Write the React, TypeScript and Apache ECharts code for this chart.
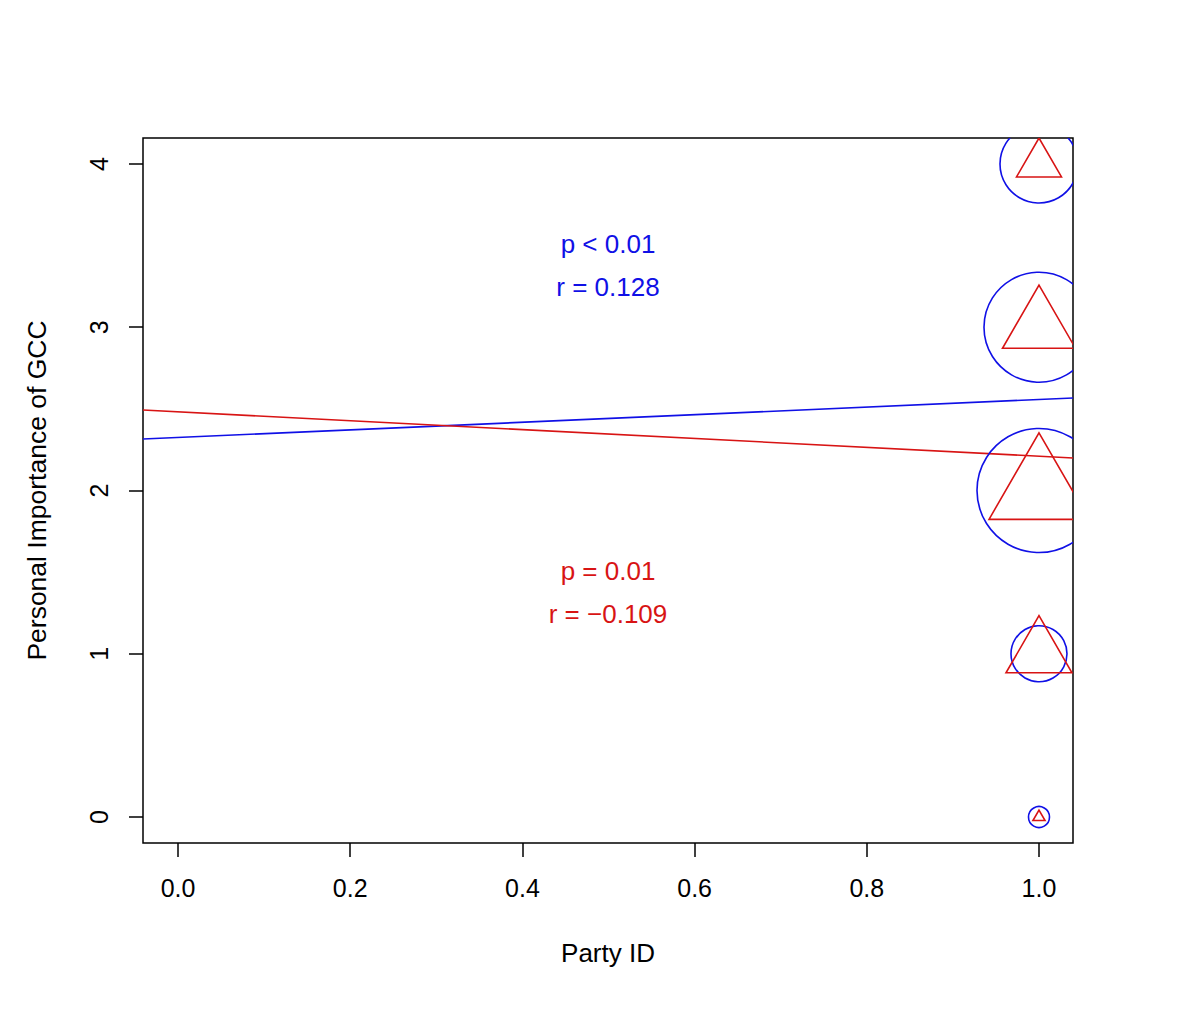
import React, { useEffect, useRef } from "react";
import * as echarts from "echarts";

// Data
const xTicks = [0, 0.2, 0.4, 0.6, 0.8, 1.0];
const yTicks = [0, 1, 2, 3, 4];
const xRange = [-0.0407, 1.0395];
const yRange = [-0.159, 4.159];

// Points: Party ID, importance, marker size (R cex)
const pointX = [1, 1, 1, 1, 1];
const pointY = [4, 3, 2, 1, 0];
const blueCex = [3.9, 5.5, 6.2, 2.8, 1.05];
const redCex = [1.67, 2.71, 3.71, 2.45, 0.45];

// Regression lines (values at the axis limits)
const blueLine = [2.315, 2.567];
const redLine = [2.493, 2.199];

const blueText = ["p < 0.01", "r = 0.128"];
const redText = ["p = 0.01", "r = \u22120.109"];

const BLUE = "#1010E6";
const RED = "#D81414";
const FONT = "'Liberation Sans', Arial, Helvetica, sans-serif";

export default function App() {
  const ref = useRef<HTMLDivElement>(null);
  useEffect(() => {
    document.body.style.margin = "0";
    const chart = echarts.init(ref.current!, null, { renderer: "svg" });
    const unit = 10;
    const circleData = pointX.map((x, i) => [x, pointY[i], blueCex[i]]);
    const triData = pointX.map((x, i) => [x, pointY[i], redCex[i]]);
    const option: any = {
      animation: false,
      backgroundColor: "#fff",
      textStyle: { fontFamily: FONT },
      grid: {
        left: 143,
        top: 138,
        width: 930,
        height: 705,
        show: true,
        borderColor: "#000",
        borderWidth: 1.5,
        backgroundColor: "transparent",
      },
      xAxis: {
        type: "value",
        min: xRange[0],
        max: xRange[1],
        name: "Party ID",
        nameLocation: "middle",
        nameGap: 97,
        nameTextStyle: { fontSize: 26, color: "#000", fontFamily: FONT },
        axisLine: { show: false, onZero: false },
        splitLine: { show: false },
        axisTick: {
          show: true,
          inside: false,
          length: 14,
          customValues: xTicks,
          lineStyle: { color: "#000", width: 1.5 },
        },
        axisLabel: {
          customValues: xTicks,
          formatter: (v: number) => v.toFixed(1),
          fontSize: 25,
          color: "#000",
          margin: 32,
          fontFamily: FONT,
        },
      },
      yAxis: {
        type: "value",
        min: yRange[0],
        max: yRange[1],
        name: "Personal Importance of GCC",
        nameLocation: "middle",
        nameGap: 93,
        nameRotate: 90,
        nameTextStyle: { fontSize: 26.5, color: "#000", fontFamily: FONT },
        axisLine: { show: false, onZero: false },
        splitLine: { show: false },
        axisTick: {
          show: true,
          inside: false,
          length: 14,
          customValues: yTicks,
          lineStyle: { color: "#000", width: 1.5 },
        },
        axisLabel: {
          customValues: yTicks,
          formatter: (v: number) => String(v),
          rotate: 90,
          fontSize: 25,
          color: "#000",
          margin: 32,
          fontFamily: FONT,
        },
      },
      series: [
        {
          type: "line",
          data: [
            [xRange[0], blueLine[0]],
            [xRange[1], blueLine[1]],
          ],
          showSymbol: false,
          clip: true,
          lineStyle: { color: BLUE, width: 1.6 },
          z: 3,
        },
        {
          type: "line",
          data: [
            [xRange[0], redLine[0]],
            [xRange[1], redLine[1]],
          ],
          showSymbol: false,
          clip: true,
          lineStyle: { color: RED, width: 1.6 },
          z: 3,
        },
        {
          type: "custom",
          clip: true,
          data: circleData,
          renderItem: (params: any, api: any) => {
            const p = api.coord([api.value(0), api.value(1)]);
            const r = api.value(2) * unit;
            return {
              type: "circle",
              shape: { cx: p[0], cy: p[1], r },
              style: { fill: "none", stroke: BLUE, lineWidth: 1.6 },
            };
          },
          z: 4,
        },
        {
          type: "custom",
          clip: true,
          data: triData,
          renderItem: (params: any, api: any) => {
            const p = api.coord([api.value(0), api.value(1)]);
            const r = api.value(2) * unit * 1.5551;
            const hw = (r * Math.sqrt(3)) / 2;
            return {
              type: "polygon",
              shape: {
                points: [
                  [p[0], p[1] - r],
                  [p[0] + hw, p[1] + r / 2],
                  [p[0] - hw, p[1] + r / 2],
                ],
              },
              style: { fill: "none", stroke: RED, lineWidth: 1.6 },
            };
          },
          z: 5,
        },
      ],
      graphic: [
        { type: "text", x: 608, y: 244, style: { text: blueText[0], fill: BLUE, font: `26px ${FONT}`, textAlign: "center", textVerticalAlign: "middle" } },
        { type: "text", x: 608, y: 287, style: { text: blueText[1], fill: BLUE, font: `26px ${FONT}`, textAlign: "center", textVerticalAlign: "middle" } },
        { type: "text", x: 608, y: 571, style: { text: redText[0], fill: RED, font: `26px ${FONT}`, textAlign: "center", textVerticalAlign: "middle" } },
        { type: "text", x: 608, y: 614, style: { text: redText[1], fill: RED, font: `26px ${FONT}`, textAlign: "center", textVerticalAlign: "middle" } },
      ],
    };
    chart.setOption(option);
    return () => chart.dispose();
  }, []);
  return <div ref={ref} style={{ width: 1200, height: 1022 }} />;
}
